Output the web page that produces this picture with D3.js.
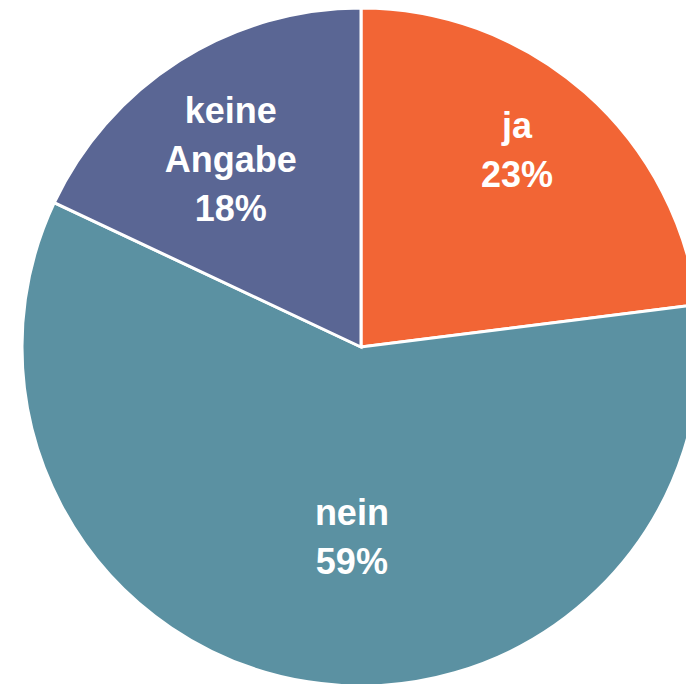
<!DOCTYPE html>
<html>
<head>
<meta charset="utf-8">
<script src="https://cdn.jsdelivr.net/npm/d3@7"></script>
<style>
    html, body { margin: 0; padding: 0; background: #fff; }
    svg { display: block; }
    .label { font-family: "Liberation Sans", Arial, sans-serif; font-weight: bold; font-size: 36px; fill: #fff; }
</style>
</head>
<body>
<div id="chart"></div>
<script>
// data
const categories = ['ja', 'nein', 'keine Angabe'];
const shares = [23, 59, 18];
const labelLines = [['ja'], ['nein'], ['keine', 'Angabe']];
const colors = ['#f26535', '#5b91a2', '#5a6694'];

const width = 686;
const height = 684;
const cx = 361;
const cy = 347;
const radius = 339;
const lineHeight = 49;

// small nudges so labels sit where the original put them
const labelNudge = {
    'ja': [-1, -19],
    'nein': [28, -45],
    'keine Angabe': [-3, 12]
};

const data = categories.map((c, i) => ({
    key: c,
    value: shares[i],
    lines: labelLines[i].concat([shares[i] + '%'])
}));

const color = d3.scaleOrdinal()
    .domain(categories)
    .range(colors);

const pie = d3.pie()
    .sort(null)
    .value(d => d.value);

const arc = d3.arc()
    .innerRadius(0)
    .outerRadius(radius);

const labelArc = d3.arc()
    .innerRadius(radius * 0.7)
    .outerRadius(radius * 0.7);

const svg = d3.select('#chart')
    .append('svg')
    .attr('width', width)
    .attr('height', height);

const g = svg.append('g')
    .attr('transform', `translate(${cx}, ${cy})`);

const arcs = pie(data);

g.selectAll('path')
    .data(arcs)
    .join('path')
    .attr('d', arc)
    .style('fill', d => color(d.data.key))
    .style('stroke', '#fff')
    .style('stroke-width', 3)
    .style('stroke-linejoin', 'miter');

const labels = g.selectAll('.label')
    .data(arcs)
    .join('text')
    .attr('class', 'label')
    .attr('text-anchor', 'middle')
    .attr('transform', d => {
        const c = labelArc.centroid(d);
        const n = labelNudge[d.data.key];
        return `translate(${c[0] + n[0]}, ${c[1] + n[1]})`;
    });

labels.selectAll('tspan')
    .data(d => d.data.lines.map((t, i, arr) => ({ t: t, i: i, n: arr.length })))
    .join('tspan')
    .attr('x', 0)
    .attr('y', d => 13 + (d.i - (d.n - 1) / 2) * lineHeight)
    .text(d => d.t);
</script>
</body>
</html>
